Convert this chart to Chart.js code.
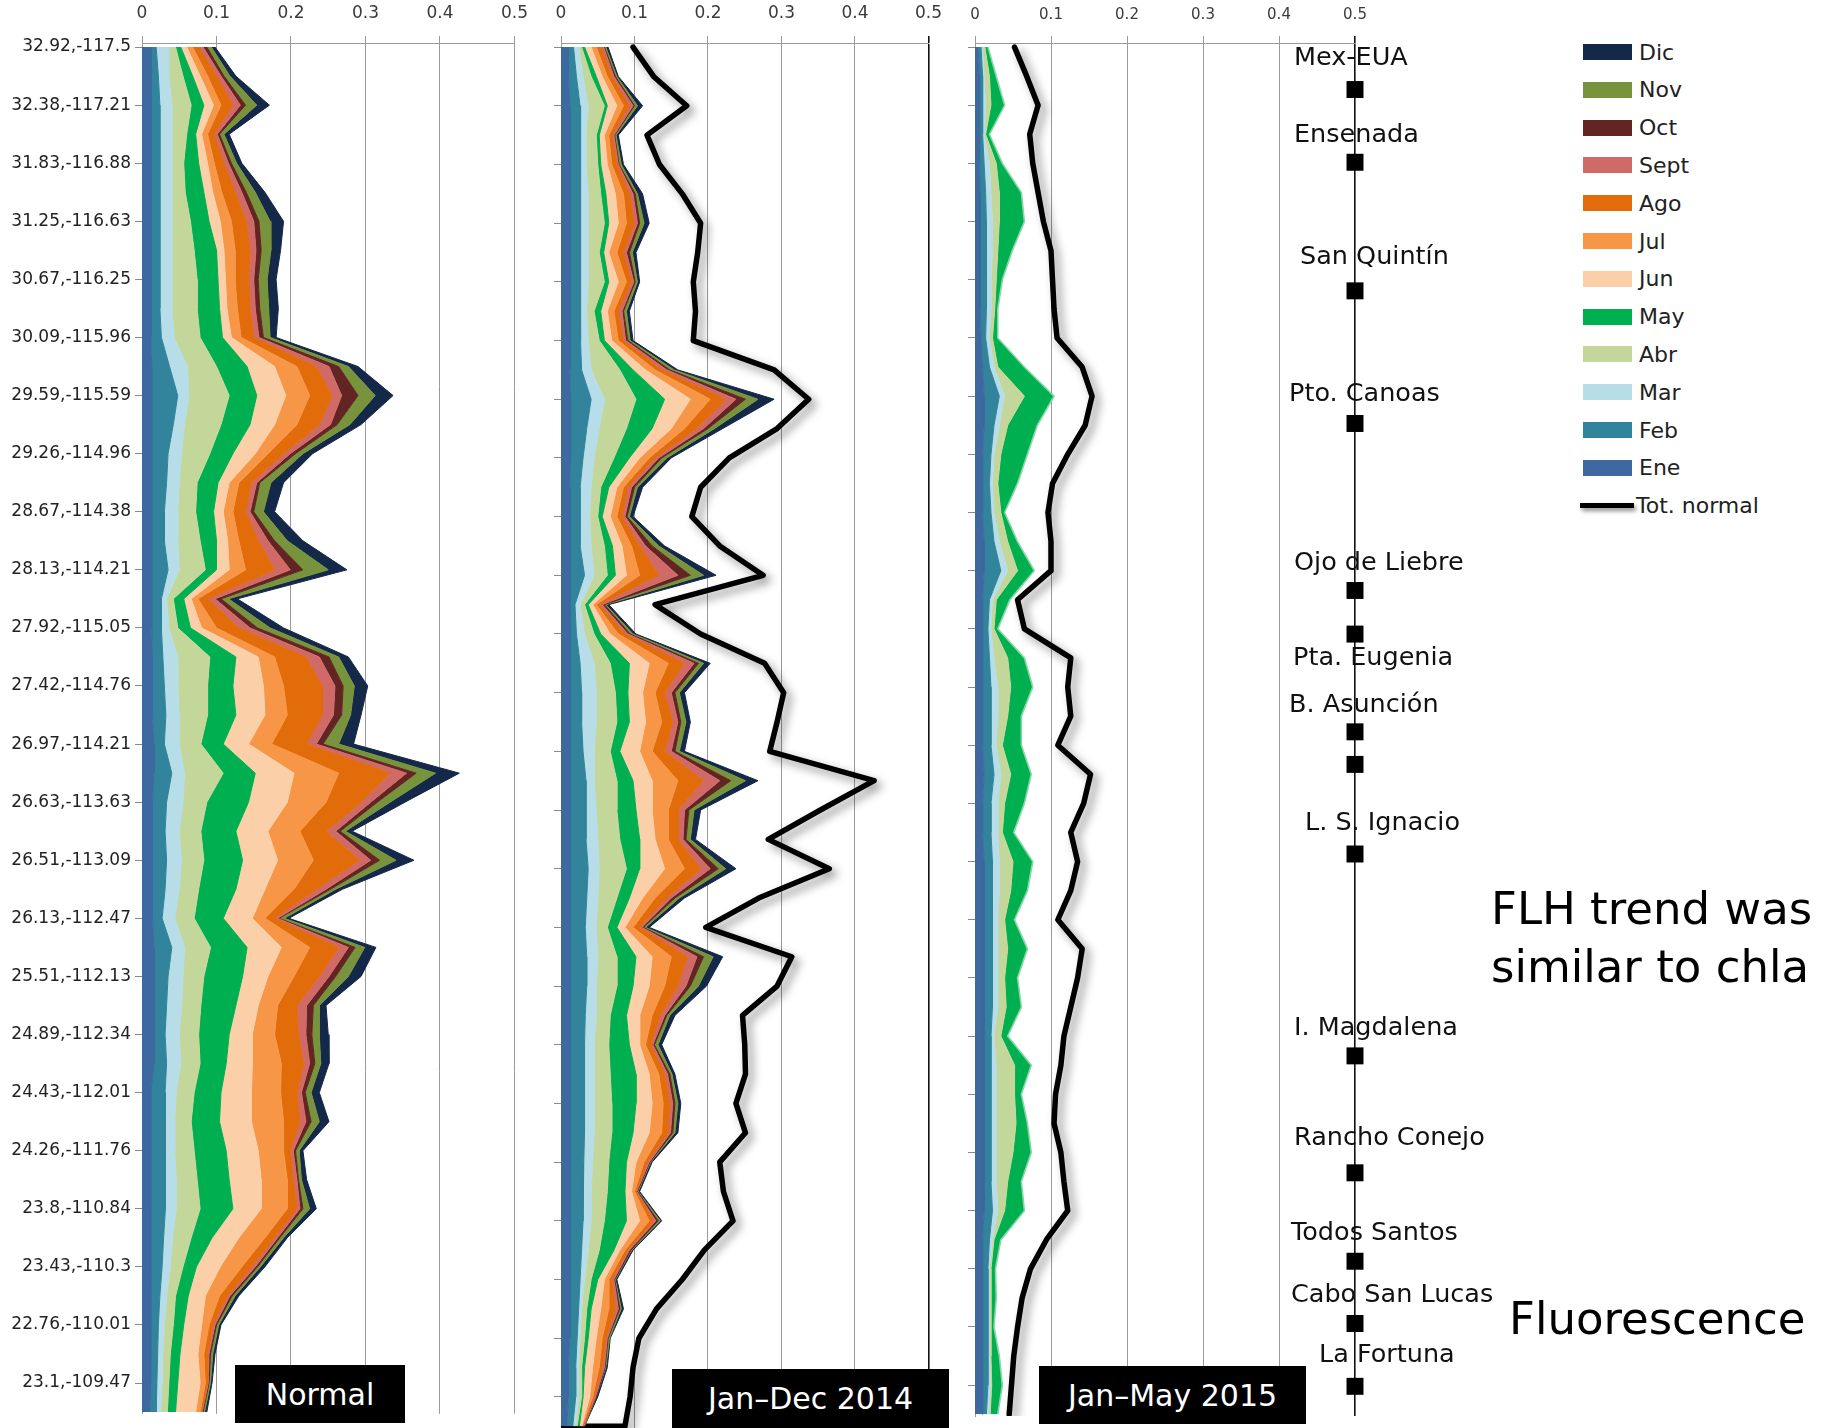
<!DOCTYPE html>
<html>
<head>
<meta charset="utf-8">
<script src="https://cdn.jsdelivr.net/npm/chart.js@4.4.1/dist/chart.umd.min.js"></script>
<style>
  html, body { margin: 0; padding: 0; background: #fff; }
  body { width: 1825px; height: 1428px; position: relative; overflow: hidden; font-family: "DejaVu Sans", sans-serif; }
  canvas { position: absolute; top: 0; }
  .tag { position: absolute; background: #000; color: #fff; font-size: 30px; display: flex; align-items: center; justify-content: center; white-space: nowrap; }
  .note { position: absolute; font-size: 45px; line-height: 45px; color: #000; white-space: nowrap; }
  .lg { position: absolute; left: 1583px; height: 16px; display: flex; align-items: center; white-space: nowrap; font-size: 22px; color: #222; }
  .sw { width: 49px; height: 16px; margin-right: 7px; flex: none; }
  .tl { width: 54px; height: 5px; margin-right: 2px; background: #000; box-shadow: 2px 3px 4px rgba(0,0,0,0.45); flex: none; }
</style>
</head>
<body>
<canvas id="pNormal" width="540" height="1428" style="left:0px"></canvas>
<canvas id="p2014" width="414" height="1428" style="left:540px"></canvas>
<canvas id="p2015" width="560" height="1428" style="left:954px"></canvas>

<div class="tag" style="left:235px;top:1365px;width:170px;height:58px;">Normal</div>
<div class="tag" style="left:672px;top:1369px;width:277px;height:59px;">Jan–Dec 2014</div>
<div class="tag" style="left:1039px;top:1366px;width:267px;height:58px;">Jan–May 2015</div>

<div class="note" style="left:1491px;top:886px;">FLH trend was</div>
<div class="note" style="left:1491px;top:944px;">similar to chla</div>
<div class="note" style="left:1509px;top:1296px;">Fluorescence</div>

<div id="legend"></div>

<script>
// Months, stacked from the coast outward (Ene nearest the axis)
const months = ['Ene', 'Feb', 'Mar', 'Abr', 'May', 'Jun', 'Jul', 'Ago', 'Sept', 'Oct', 'Nov', 'Dic'];
const monthColors = ['#3D68A0', '#31849B', '#B7DDE8', '#C4D79B', '#00B050', '#FBCFA8',
                     '#F79646', '#E26B0A', '#D06A67', '#632523', '#77933C', '#14284A'];
const totalLabel = 'Tot. normal';

// Station coordinates along the coast, north to south (one per tick)
const siteLabels = [
  '32.92,-117.5', '32.38,-117.21', '31.83,-116.88', '31.25,-116.63', '30.67,-116.25',
  '30.09,-115.96', '29.59,-115.59', '29.26,-114.96', '28.67,-114.38', '28.13,-114.21',
  '27.92,-115.05', '27.42,-114.76', '26.97,-114.21', '26.63,-113.63', '26.51,-113.09',
  '26.13,-112.47', '25.51,-112.13', '24.89,-112.34', '24.43,-112.01', '24.26,-111.76',
  '23.8,-110.84', '23.43,-110.3', '22.76,-110.01', '23.1,-109.47'
];
const xTicks = [0, 0.1, 0.2, 0.3, 0.4, 0.5];
const xTickLabels = ['0', '0.1', '0.2', '0.3', '0.4', '0.5'];
const rowStep = 0.5; // samples every half station tick

// Normal (climatological) monthly fluorescence, 48 samples north -> south
const normEne = [.012,.012,.012,.012,.012,.012,.012,.012,.012,.012,.012,.013,.013,.013,.013,.013,.013,.013,.013,.013,.013,.014,.014,.014,.016,.016,.014,.014,.014,.014,.014,.016,.016,.016,.016,.016,.012,.012,.012,.012,.012,.012,.012,.012,.011,.011,.011,.010];
const normFeb = [.007,.010,.012,.012,.012,.012,.012,.012,.012,.012,.014,.024,.035,.029,.022,.020,.017,.017,.022,.013,.013,.014,.016,.018,.014,.024,.019,.017,.019,.017,.013,.024,.019,.017,.015,.017,.019,.019,.019,.020,.020,.017,.015,.012,.011,.010,.009,.009];
const normMar = [.016,.014,.016,.016,.016,.016,.016,.016,.016,.016,.017,.024,.015,.015,.018,.017,.018,.018,.015,.007,.010,.020,.018,.018,.020,.017,.022,.019,.020,.019,.017,.017,.020,.020,.019,.019,.015,.013,.013,.014,.014,.012,.011,.009,.008,.007,.007,.006];
const normAbr = [.010,.019,.026,.020,.016,.018,.025,.030,.034,.034,.035,.039,.054,.049,.038,.024,.024,.030,.035,.009,.012,.043,.040,.038,.029,.052,.032,.029,.030,.026,.026,.035,.028,.026,.026,.026,.024,.022,.026,.028,.032,.025,.017,.012,.012,.010,.009,.009];
const normMay = [.007,.013,.017,.012,.020,.025,.025,.030,.028,.030,.030,.041,.037,.039,.031,.028,.024,.022,.015,.014,.017,.035,.034,.038,.030,.043,.056,.047,.052,.050,.039,.049,.052,.047,.041,.035,.036,.038,.043,.043,.044,.028,.018,.017,.014,.013,.012,.011];
const normJun = [.008,.010,.013,.008,.012,.012,.015,.010,.010,.010,.012,.037,.039,.033,.030,.015,.013,.015,.017,.010,.015,.030,.041,.039,.034,.052,.052,.043,.047,.039,.039,.046,.034,.030,.031,.035,.041,.043,.043,.043,.038,.036,.032,.023,.024,.024,.030,.027];
const normJul = [.008,.010,.010,.008,.009,.012,.015,.015,.013,.014,.013,.030,.032,.030,.017,.013,.013,.015,.022,.009,.020,.022,.027,.030,.031,.060,.052,.043,.048,.039,.017,.038,.035,.026,.030,.039,.039,.043,.034,.035,.035,.035,.029,.019,.010,.008,.007,.006];
const normAgo = [.008,.012,.016,.009,.013,.018,.020,.020,.018,.017,.017,.026,.030,.030,.021,.017,.017,.026,.039,.013,.030,.042,.052,.047,.047,.069,.047,.035,.062,.030,.013,.039,.034,.026,.032,.030,.022,.022,.009,.008,.013,.013,.013,.011,.005,.005,.003,.002];
const normSept = [.006,.006,.010,.004,.006,.009,.010,.008,.007,.007,.007,.017,.013,.015,.009,.007,.006,.013,.021,.010,.015,.018,.017,.015,.013,.022,.013,.013,.015,.013,.004,.013,.013,.013,.010,.008,.006,.008,.004,.005,.004,.004,.005,.003,.003,.002,.001,.001];
const normOct = [.005,.004,.007,.003,.004,.006,.007,.007,.006,.006,.006,.013,.022,.009,.007,.004,.005,.009,.017,.008,.010,.013,.011,.011,.009,.013,.009,.006,.012,.006,.002,.009,.009,.009,.008,.007,.005,.007,.003,.002,.004,.003,.003,.003,.002,.002,.001,.001];
const normNov = [.006,.008,.015,.006,.007,.012,.015,.013,.012,.012,.009,.013,.023,.017,.010,.015,.013,.017,.034,.010,.017,.013,.015,.012,.021,.026,.017,.007,.022,.007,.007,.013,.017,.008,.010,.008,.008,.011,.005,.004,.009,.005,.004,.004,.003,.003,.002,.002];
const normDic = [.005,.008,.017,.007,.007,.013,.018,.013,.012,.013,.008,.013,.024,.015,.013,.017,.015,.021,.025,.012,.018,.013,.018,.014,.020,.032,.020,.009,.024,.009,.006,.015,.017,.009,.012,.011,.011,.013,.005,.007,.009,.005,.006,.005,.003,.003,.002,.003];

// 2014 monthly fluorescence
const y14Ene = [.010,.010,.012,.012,.012,.012,.012,.012,.012,.012,.012,.012,.013,.013,.013,.012,.012,.012,.012,.012,.012,.012,.012,.012,.012,.012,.012,.012,.012,.012,.012,.012,.012,.012,.012,.012,.012,.012,.012,.012,.012,.012,.012,.012,.012,.010,.010,.008];
const y14Feb = [.007,.011,.014,.014,.014,.015,.015,.015,.015,.014,.015,.016,.028,.022,.017,.014,.014,.014,.020,.007,.009,.014,.016,.016,.018,.022,.022,.022,.025,.023,.021,.023,.023,.021,.020,.020,.020,.020,.019,.018,.018,.016,.014,.012,.010,.010,.010,.008];
const y14Mar = [.007,.009,.011,.008,.008,.010,.010,.010,.010,.009,.010,.013,.018,.017,.015,.015,.013,.015,.013,.007,.011,.019,.020,.020,.015,.011,.014,.016,.015,.015,.015,.015,.013,.015,.013,.013,.013,.013,.012,.011,.011,.009,.006,.004,.004,.004,.004,.004];
const y14Abr = [.004,.011,.022,.014,.016,.017,.022,.015,.022,.010,.015,.039,.043,.037,.027,.013,.011,.018,.018,.006,.013,.022,.026,.028,.022,.031,.028,.030,.037,.026,.015,.026,.028,.019,.020,.022,.024,.024,.022,.022,.018,.015,.009,.007,.006,.004,.004,.002];
const y14May = [.004,.007,.004,.004,.004,.007,.006,.006,.006,.009,.007,.018,.039,.035,.021,.011,.006,.011,.011,.005,.009,.026,.017,.017,.013,.022,.026,.027,.018,.017,.013,.026,.022,.022,.028,.035,.033,.029,.024,.024,.030,.020,.009,.006,.005,.004,.002,.003];
const y14Jun = [.009,.008,.013,.007,.009,.013,.013,.007,.013,.009,.010,.017,.035,.026,.014,.011,.011,.013,.015,.006,.013,.027,.020,.022,.027,.026,.022,.021,.034,.018,.011,.022,.022,.018,.014,.018,.022,.022,.013,.009,.018,.008,.009,.013,.011,.011,.009,.003];
const y14Jul = [.007,.007,.009,.006,.006,.011,.011,.011,.011,.009,.009,.013,.027,.018,.013,.009,.009,.013,.018,.005,.011,.026,.017,.022,.017,.035,.022,.018,.027,.017,.011,.026,.021,.017,.008,.013,.015,.017,.011,.004,.013,.007,.006,.011,.008,.009,.004,.001];
const y14Ago = [.006,.006,.008,.004,.007,.008,.011,.009,.007,.006,.007,.009,.021,.017,.008,.006,.007,.011,.026,.004,.009,.022,.013,.015,.017,.035,.013,.013,.022,.016,.009,.022,.018,.011,.007,.008,.009,.009,.004,.002,.006,.004,.004,.009,.005,.004,.002,.001];
const y14Sept = [.004,.003,.005,.003,.002,.005,.004,.004,.003,.005,.003,.007,.014,.009,.005,.005,.004,.008,.026,.004,.004,.013,.009,.007,.009,.022,.009,.007,.013,.006,.003,.013,.011,.006,.003,.004,.004,.003,.003,.001,.003,.002,.003,.004,.002,.003,.002,.001];
const y14Oct = [.001,.002,.002,.001,.001,.003,.003,.004,.002,.002,.003,.004,.013,.006,.004,.004,.003,.009,.017,.003,.003,.006,.005,.004,.005,.015,.006,.004,.011,.005,.002,.009,.006,.003,.002,.003,.003,.003,.001,.001,.003,.002,.001,.002,.001,.001,.001,.000];
const y14Nov = [.002,.002,.004,.002,.003,.003,.006,.004,.003,.004,.003,.006,.017,.009,.007,.004,.003,.009,.018,.002,.004,.007,.006,.007,.006,.020,.007,.006,.010,.006,.003,.013,.011,.004,.005,.003,.004,.003,.001,.001,.003,.001,.001,.002,.002,.001,.000,.001];
const y14Dic = [.003,.002,.007,.003,.003,.007,.007,.005,.003,.004,.004,.005,.022,.011,.006,.007,.005,.008,.017,.004,.004,.009,.007,.006,.007,.017,.009,.007,.014,.007,.005,.013,.011,.007,.005,.004,.004,.004,.002,.002,.002,.002,.002,.003,.001,.002,.002,.000];

// 2015 monthly fluorescence (January to May)
const y15Ene = [.004,.006,.006,.006,.006,.007,.007,.007,.007,.007,.008,.010,.012,.012,.010,.010,.010,.012,.012,.010,.010,.010,.010,.010,.010,.012,.010,.010,.012,.012,.012,.012,.012,.012,.012,.012,.012,.012,.012,.012,.012,.010,.010,.010,.010,.010,.010,.010];
const y15Feb = [.004,.004,.004,.004,.006,.007,.008,.008,.008,.008,.006,.009,.020,.013,.011,.009,.011,.013,.022,.009,.007,.009,.011,.011,.011,.013,.011,.011,.011,.011,.011,.011,.011,.011,.009,.009,.009,.009,.009,.009,.011,.009,.007,.007,.007,.007,.007,.005];
const y15Mar = [.002,.002,.004,.002,.007,.007,.008,.008,.006,.006,.005,.006,.007,.007,.004,.004,.004,.007,.009,.004,.004,.006,.009,.009,.007,.009,.009,.009,.009,.009,.007,.007,.007,.007,.004,.007,.007,.007,.007,.007,.007,.004,.002,.002,.002,.002,.003,.003];
const y15Abr = [.003,.007,.007,.002,.009,.011,.009,.007,.007,.005,.004,.005,.026,.011,.009,.007,.009,.011,.013,.005,.004,.018,.017,.013,.008,.013,.009,.006,.018,.015,.009,.013,.009,.011,.009,.024,.024,.026,.022,.015,.009,.002,.002,.002,.002,.002,.002,.002];
const y15May = [.004,.009,.018,.005,.008,.029,.033,.019,.008,.004,.007,.035,.039,.039,.035,.026,.005,.013,.022,.018,.005,.022,.029,.018,.025,.027,.026,.015,.026,.022,.013,.026,.017,.020,.009,.022,.009,.015,.024,.018,.026,.009,.006,.007,.004,.011,.014,.010];

// Coastal reference sites shown beside the 2015 panel
const stationNames = ['Mex-EUA', 'Ensenada', 'San Quintín', 'Pto. Canoas', 'Ojo de Liebre', 'Pta. Eugenia',
                      'B. Asunción', '', 'L. S. Ignacio', 'I. Magdalena', 'Rancho Conejo', 'Todos Santos',
                      'Cabo San Lucas', 'La Fortuna'];
const stationRows = [0.73, 1.98, 4.19, 6.47, 9.34, 10.09, 11.77, 12.33, 13.87, 17.34, 19.35, 20.87, 21.94, 23.02];
const stationValue = 0.5;

const normalSeries = [normEne, normFeb, normMar, normAbr, normMay, normJun, normJul, normAgo, normSept, normOct, normNov, normDic];
const series2014 = [y14Ene, y14Feb, y14Mar, y14Abr, y14May, y14Jun, y14Jul, y14Ago, y14Sept, y14Oct, y14Nov, y14Dic];
const series2015 = [y15Ene, y15Feb, y15Mar, y15Abr, y15May];

// ---- helpers -------------------------------------------------------------
const toPoints = values => values.map((v, i) => ({ x: v, y: i * rowStep }));
const sumOf = (seriesList) => seriesList[0].map((_, i) => seriesList.reduce((s, arr) => s + arr[i], 0));

function monthDatasets(seriesList, edgeColors) {
  return seriesList.map((values, m) => ({
    label: months[m],
    data: toPoints(values),
    backgroundColor: monthColors[m],
    borderColor: (edgeColors && edgeColors[m]) || monthColors[m],
    borderWidth: (edgeColors && edgeColors[m]) ? 1.6 : 1,
    fill: m === 0 ? 'origin' : '-1',
    pointRadius: 0,
    tension: 0,
    stack: 'months'
  }));
}

function totalLine(values) {
  return {
    label: totalLabel,
    data: values,
    borderColor: '#000',
    borderWidth: 5.5,
    backgroundColor: '#000',
    fill: false,
    pointRadius: 0,
    tension: 0,
    stack: 'normal',
    shadow: true,
    borderJoinStyle: 'round',
    borderCapStyle: 'round'
  };
}

const lineShadow = {
  id: 'lineShadow',
  beforeDatasetDraw(chart, args) {
    if (chart.data.datasets[args.index].shadow) {
      const c = chart.ctx;
      c.save();
      c.shadowColor = 'rgba(0,0,0,0.42)';
      c.shadowBlur = 10;
      c.shadowOffsetX = 5;
      c.shadowOffsetY = 5;
    }
  },
  afterDatasetDraw(chart, args) {
    if (chart.data.datasets[args.index].shadow) chart.ctx.restore();
  }
};

// Label placement beside each station marker (pixels from the marker)
const stationLabelOffsets = [[-61, -31], [-61, -27], [-55, -33], [-66, -29], [-61, -27], [-62, 24],
                             [-66, -26], [0, 0], [-50, -31], [-61, -28], [-61, -34], [-64, -28],
                             [-64, -28], [-36, -31]];
const stationText = {
  id: 'stationText',
  afterDatasetsDraw(chart) {
    const { ctx, scales: { x, y } } = chart;
    ctx.save();
    ctx.font = '25.5px "DejaVu Sans"';
    ctx.fillStyle = '#111';
    ctx.textAlign = 'left';
    ctx.textBaseline = 'middle';
    stationNames.forEach((name, i) => {
      if (!name) return;
      const [dx, dy] = stationLabelOffsets[i];
      ctx.fillText(name, x.getPixelForValue(stationValue) + dx, y.getPixelForValue(stationRows[i]) + dy);
    });
    ctx.restore();
  }
};

function makePanel(id, datasets, cfg) {
  return new Chart(document.getElementById(id), {
    type: 'line',
    data: { datasets },
    options: {
      responsive: false,
      animation: false,
      devicePixelRatio: 1,
      indexAxis: 'y',
      layout: { padding: { left: 0, right: cfg.padRight, top: 0, bottom: 0 } },
      plugins: { legend: { display: false }, tooltip: { enabled: false } },
      scales: {
        x: {
          type: 'linear', position: 'top', min: 0, max: 0.5, stacked: true,
          afterBuildTicks: ax => { ax.ticks = xTicks.map(v => ({ value: v })); },
          ticks: {
            callback: (v, i) => xTickLabels[i],
            font: { family: 'DejaVu Sans', size: cfg.xFont },
            color: '#3a3a3a', padding: 12, maxRotation: 0, autoSkip: false
          },
          grid: {
            color: c => (cfg.darkEdge && c.tick && c.tick.value === 0.5) ? '#111' : '#9a9a9a',
            lineWidth: c => (cfg.darkEdge && c.tick && c.tick.value === 0.5) ? 1.6 : 1,
            drawTicks: true, tickLength: 7
          },
          border: { display: true, color: '#9a9a9a', width: 1 },
          afterFit: s => { s.height = 43; }
        },
        y: {
          type: 'linear', min: -0.07, max: 23.53, reverse: true,
          afterBuildTicks: ax => { ax.ticks = siteLabels.map((_, i) => ({ value: i })); },
          ticks: {
            display: cfg.showSites,
            callback: v => siteLabels[v],
            font: { family: 'DejaVu Sans', size: 17 },
            color: '#222', padding: 4, autoSkip: false
          },
          grid: { drawOnChartArea: false, drawTicks: true, tickLength: 7, color: '#8a8a8a' },
          border: { display: true, color: '#9a9a9a', width: 1 },
          afterFit: s => { s.width = cfg.yWidth; }
        }
      }
    },
    plugins: cfg.plugins || []
  });
}

// ---- Normal ----------------------------------------------------------------
makePanel('pNormal', monthDatasets(normalSeries), {
  padRight: 14, yWidth: 142, showSites: true, darkEdge: false, xFont: 17
});

// ---- 2014, with the normal annual total -----------------------------------
const normalTotal = sumOf(normalSeries);
const totalPoints2014 = toPoints(normalTotal);
// the trace closes back to zero at the southern end
totalPoints2014.push({ x: 0, y: (normalTotal.length - 1) * rowStep });
makePanel('p2014', [...monthDatasets(series2014), totalLine(totalPoints2014)], {
  padRight: 14, yWidth: 21, showSites: false, darkEdge: true, xFont: 17, plugins: [lineShadow]
});

// ---- 2015, with the normal January-May total -----------------------------
const normalJanMay = sumOf(normalSeries.slice(0, 5));
const edge2015 = [null, null, null, null, '#86D7A4'];
makePanel('p2015', [
  ...monthDatasets(series2015, edge2015),
  totalLine(toPoints(normalJanMay)),
  {
    label: 'stations',
    data: stationRows.map(r => ({ x: stationValue, y: r })),
    showLine: false, fill: false, stack: 'stations',
    pointStyle: 'rect', pointRadius: 12, pointBorderWidth: 0,
    pointBackgroundColor: '#000', backgroundColor: '#000', borderColor: '#000',
    clip: false
  }
], {
  padRight: 159, yWidth: 21, showSites: false, darkEdge: true, xFont: 15, plugins: [lineShadow, stationText]
});

// ---- legend ------------------------------------------------------------------
const legend = document.getElementById('legend');
const legendOrder = months.map((m, i) => i).reverse();
legendOrder.forEach((mi, k) => {
  const row = document.createElement('div');
  row.className = 'lg';
  row.style.top = (44 + k * 37.8) + 'px';
  const sw = document.createElement('span');
  sw.className = 'sw';
  sw.style.background = monthColors[mi];
  row.appendChild(sw);
  row.appendChild(document.createTextNode(months[mi]));
  legend.appendChild(row);
});
const totRow = document.createElement('div');
totRow.className = 'lg';
totRow.style.left = '1580px';
totRow.style.top = (44 + 12 * 37.8) + 'px';
const tl = document.createElement('span');
tl.className = 'tl';
totRow.appendChild(tl);
totRow.appendChild(document.createTextNode(totalLabel));
legend.appendChild(totRow);
</script>
</body>
</html>
